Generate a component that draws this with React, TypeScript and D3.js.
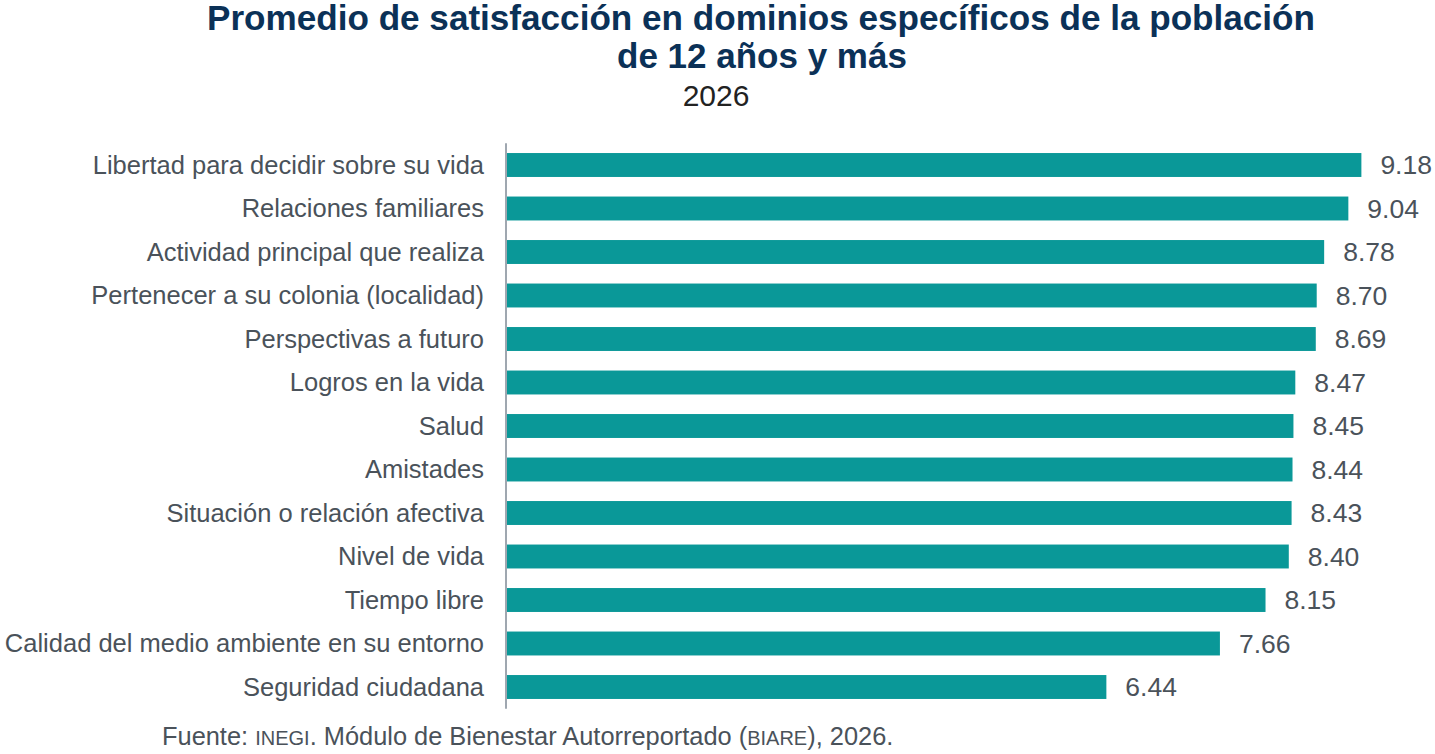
import React from "react";
import * as d3 from "d3";

const categories = [
  "Libertad para decidir sobre su vida",
  "Relaciones familiares",
  "Actividad principal que realiza",
  "Pertenecer a su colonia (localidad)",
  "Perspectivas a futuro",
  "Logros en la vida",
  "Salud",
  "Amistades",
  "Situación o relación afectiva",
  "Nivel de vida",
  "Tiempo libre",
  "Calidad del medio ambiente en su entorno",
  "Seguridad ciudadana",
];
const values = [9.18, 9.04, 8.78, 8.7, 8.69, 8.47, 8.45, 8.44, 8.43, 8.4, 8.15, 7.66, 6.44];

const titleLines = ["Promedio de satisfacción en dominios específicos de la población", "de 12 años y más"];
const subtitle = "2026";

const W = 1435;
const H = 754;
const FONT = "'Liberation Sans', Arial, sans-serif";

export default function App() {
  const x = d3.scaleLinear().domain([0, 10]).range([507, 507 + 930.7]);
  const y = d3
    .scaleBand<string>()
    .domain(categories)
    .range([143.25, 708.75])
    .paddingInner(0.45)
    .paddingOuter(0.225);
  const bh = y.bandwidth();

  return (
    <svg width={W} height={H} style={{ position: "absolute", left: 0, top: 0, background: "#fff" }} fontFamily={FONT}>
      <text x={761} y={30} textAnchor="middle" fontSize={34.5} fontWeight="bold" fill="#0b3157" textLength={1108} lengthAdjust="spacingAndGlyphs">
        {titleLines[0]}
      </text>
      <text x={762} y={68} textAnchor="middle" fontSize={35} fontWeight="bold" fill="#0b3157">
        {titleLines[1]}
      </text>
      <text x={716} y={106} textAnchor="middle" fontSize={30} fill="#222">
        {subtitle}
      </text>

      {categories.map((c, i) => (
        <g key={c}>
          <rect x={x(0)} y={y(c)!} width={x(values[i]) - x(0)} height={bh} fill="#0a9898" />
          <text
            x={484}
            y={y(c)! + bh / 2}
            dy="0.35em"
            textAnchor="end"
            fontSize={25.5}
            fill="#4a525a"
          >
            {c}
          </text>
          <text x={x(values[i]) + 19} y={y(c)! + bh / 2} dy="0.35em" fontSize={26.5} fill="#4a525a">
            {values[i].toFixed(2)}
          </text>
        </g>
      ))}
      <line x1={506} x2={506} y1={y.range()[0]} y2={y.range()[1]} stroke="#7f8a96" strokeWidth={1.5} />

      <text x={162} y={745} fontSize={25.4} fill="#4a525a">
        Fuente: <tspan fontSize={20}>INEGI</tspan>. Módulo de Bienestar Autorreportado (<tspan fontSize={20}>BIARE</tspan>), 2026.
      </text>
    </svg>
  );
}
